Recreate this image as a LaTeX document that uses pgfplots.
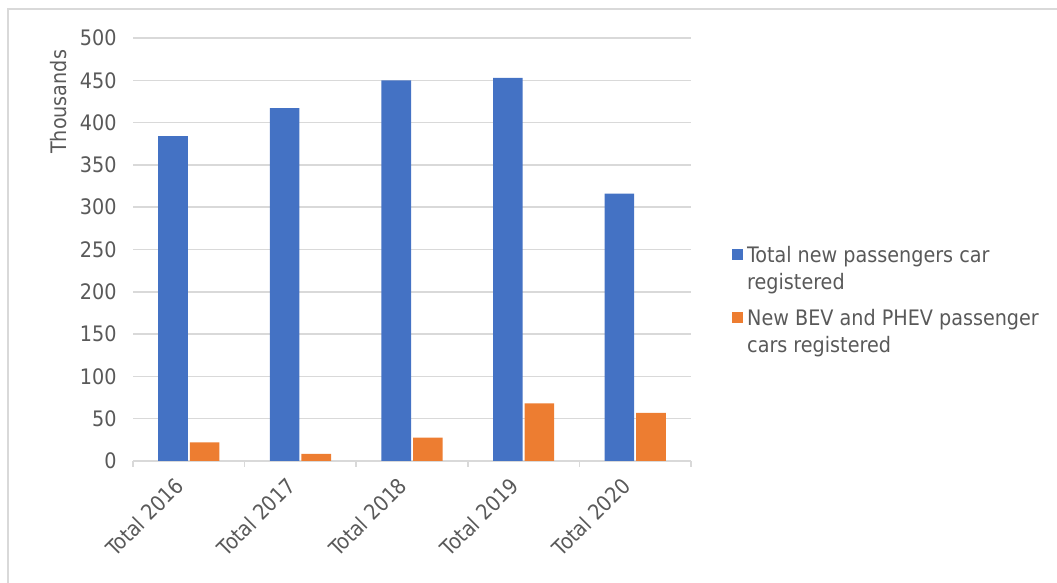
\documentclass[border=0pt]{standalone}
\usepackage{fontspec}
\setmainfont{DejaVu Sans Condensed}
\usepackage{pgfplots}
\pgfplotsset{compat=1.18}
\definecolor{barblue}{HTML}{4472C4}
\definecolor{barorange}{HTML}{ED7D31}
\definecolor{txtgrey}{HTML}{595959}
\definecolor{gridgrey}{HTML}{D9D9D9}
\begin{document}
\begin{tikzpicture}[x=1bp,y=1bp]
\clip (0,0) rectangle (1057,583);
\draw[gridgrey, line width=1.5bp] (8,-20) rectangle (1080,574);
\begin{axis}[
  at={(133bp,122bp)}, anchor=south west,
  width=558bp, height=423bp, scale only axis,
  xmin=-0.5, xmax=4.5, ymin=0, ymax=500,
  ybar, bar width=29.6bp,
  ytick={0,50,...,500},
  xtick={0,...,4},
  xticklabels={Total 2016,Total 2017,Total 2018,Total 2019,Total 2020},
  major tick length=0pt,
  minor xtick={-0.5,0.5,...,4.5},
  minor tick length=6bp,
  tick align=outside,
  minor x tick style={gridgrey, line width=1.5bp},
  ymajorgrids,
  major grid style={gridgrey, line width=1.5bp},
  axis x line*=bottom,
  axis y line*=left,
  x axis line style={gridgrey, line width=1.5bp, -},
  y axis line style={draw=none},
  /pgf/number format/assume math mode=true,
  tick label style={font=\fontsize{21.4}{26}\selectfont, text=txtgrey},
  yticklabel style={xshift=-13bp},
  xticklabel style={xshift=-15bp, yshift=-10bp, rotate=45, anchor=north east},
  ylabel={Thousands},
  ylabel style={at={(axis description cs:-0.133,0.849)}, anchor=center, font=\fontsize{21.4}{26}\selectfont, text=txtgrey},
  legend style={at={(axis description cs:1.0735,0.5177)}, anchor=north west, draw=none, fill=none,
    inner sep=0pt, nodes={inner sep=0pt, anchor=base west},
    font=\fontsize{21.4}{26}\selectfont, text=txtgrey, row sep=0bp,
    /tikz/every even column/.append style={column sep=8bp}},
  legend image code/.code={\fill[#1] (0bp,2.2bp) rectangle (11bp,13.2bp); \path (15bp,5bp);},
]
\addplot[fill=barblue, draw=none] coordinates {(0,384) (1,417) (2,450) (3,453) (4,316)};
\addlegendentry[text height=20bp, text depth=7bp]{Total new passengers car}
\addlegendimage{empty legend}
\addlegendentry[text height=20bp, text depth=16bp]{registered}
\addplot[fill=barorange, draw=none] coordinates {(0,22) (1,8.5) (2,27.5) (3,68) (4,57)};
\addlegendentry[text height=20bp, text depth=7bp]{New BEV and PHEV passenger}
\addlegendimage{empty legend}
\addlegendentry[text height=20bp, text depth=7bp]{cars registered}
\end{axis}
\end{tikzpicture}
\end{document}
